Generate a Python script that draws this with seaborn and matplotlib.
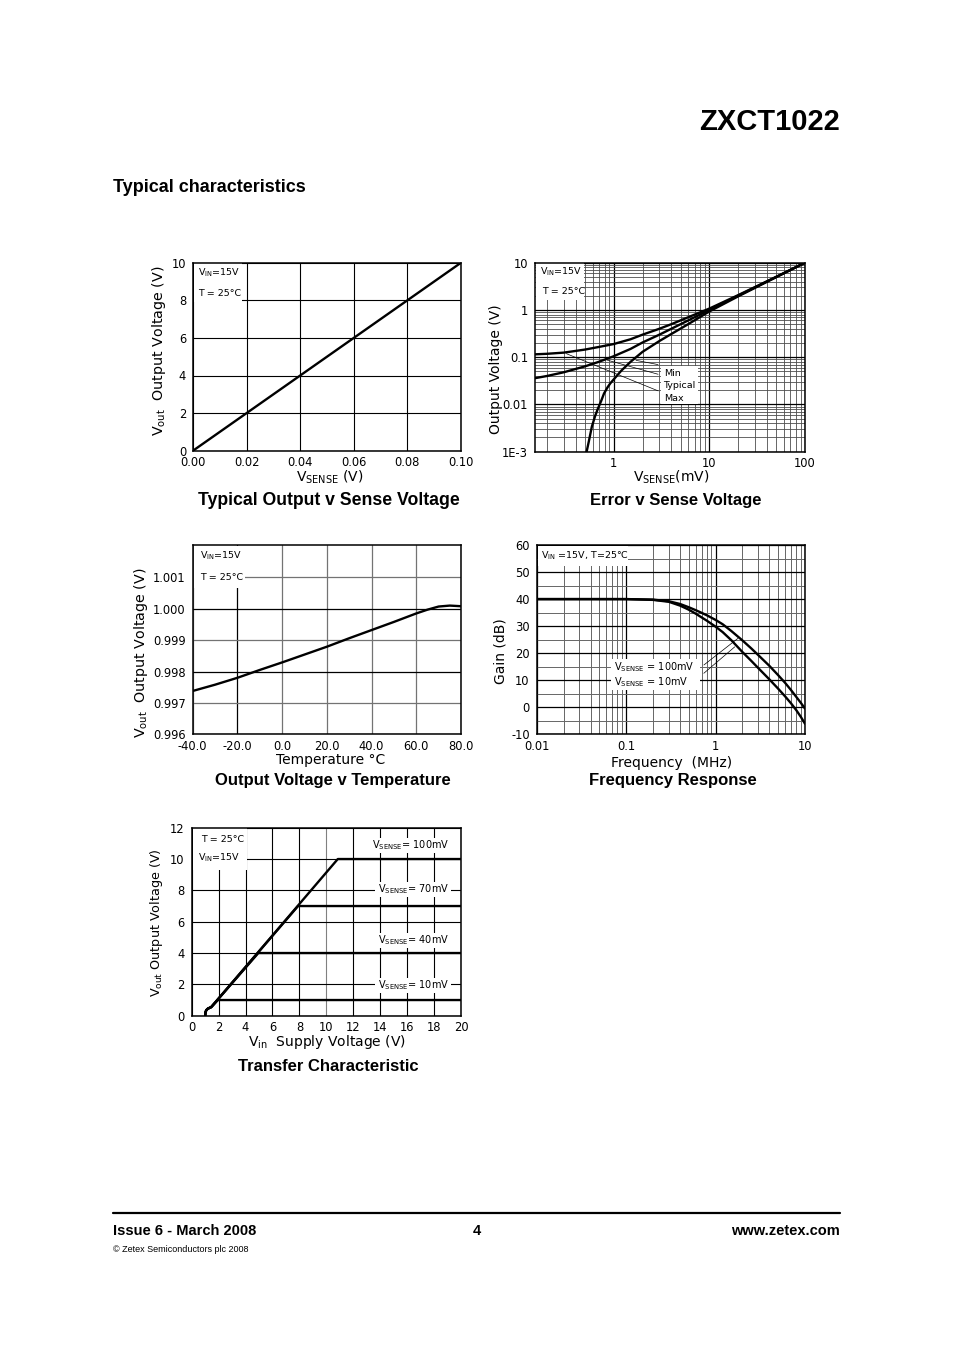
import matplotlib
matplotlib.use("Agg")
import matplotlib.pyplot as plt
from matplotlib.lines import Line2D
from matplotlib.patches import Rectangle
from matplotlib.ticker import FixedLocator, LogLocator, NullFormatter
import numpy as np
import seaborn as sns

sns.set_theme(style="white")
plt.rcParams["font.family"] = ["DejaVu Sans"]
plt.rcParams["mathtext.fontset"] = "dejavusans"
plt.rcParams["text.color"] = "black"
plt.rcParams["axes.labelcolor"] = "black"
plt.rcParams["xtick.color"] = "black"
plt.rcParams["ytick.color"] = "black"
plt.rcParams["axes.unicode_minus"] = False

# --- Typical Output v Sense Voltage ---
sense_v = [0.00, 0.02, 0.04, 0.06, 0.08, 0.10]
sense_vout = [0.0, 2.0, 4.0, 6.0, 8.0, 10.0]
p1_xticks = [0.00, 0.02, 0.04, 0.06, 0.08, 0.10]
p1_xlabels = ["0.00", "0.02", "0.04", "0.06", "0.08", "0.10"]
p1_yticks = [0, 2, 4, 6, 8, 10]

# --- Error v Sense Voltage (x in mV, y in V) ---
err_max_x = [0.15, 0.2, 0.3, 0.5, 0.7, 1, 1.5, 2, 3, 4, 6, 10, 20, 50, 100]
err_max_y = [0.115, 0.118, 0.125, 0.145, 0.165, 0.19, 0.24, 0.3, 0.4, 0.5, 0.7, 1.07, 2.06, 5.02, 10.0]
err_typ_x = [0.15, 0.2, 0.3, 0.5, 0.7, 1, 1.5, 2, 3, 4, 6, 10, 20, 50, 100]
err_typ_y = [0.036, 0.04, 0.048, 0.064, 0.08, 0.105, 0.15, 0.205, 0.3, 0.4, 0.6, 1.0, 2.0, 5.0, 10.0]
err_min_x = [0.5, 0.52, 0.55, 0.59, 0.64, 0.68, 0.74, 0.79, 0.86, 0.92, 1.0, 1.2, 1.5, 2, 3, 4, 6, 10, 20, 50, 100]
err_min_y = [0.0007, 0.001, 0.0017, 0.0034, 0.0058, 0.008, 0.012, 0.017, 0.023, 0.028, 0.034, 0.052, 0.08, 0.13, 0.22,
             0.31, 0.5, 0.93, 1.94, 4.95, 10.0]
p2_xticks = [1, 10, 100]
p2_xlabels = ["1", "10", "100"]
p2_yticks = [1e-3, 1e-2, 1e-1, 1, 10]
p2_ylabels = ["1E-3", "0.01", "0.1", "1", "10"]

# --- Output Voltage v Temperature ---
temp_c = [-40, -30, -20, -10, 0, 10, 20, 30, 40, 50, 60, 65, 70, 75, 80]
temp_vout = [0.99738, 0.99758, 0.99780, 0.99805, 0.99829, 0.99854, 0.99879, 0.99906,
             0.99932, 0.99958, 0.99985, 0.99997, 1.00007, 1.00010, 1.00008]
p3_xticks = [-40, -20, 0, 20, 40, 60, 80]
p3_yticks = [0.996, 0.997, 0.998, 0.999, 1.000, 1.001]

# --- Frequency Response ---
freq_mhz = [0.01, 0.05, 0.1, 0.2, 0.3, 0.4, 0.5, 0.6, 0.7, 0.8, 1, 1.2, 1.5, 2, 2.5, 3, 4, 5, 6, 7, 8, 9, 10]
gain_100mv = [40, 40, 40, 39.8, 39.2, 38.2, 37.0, 35.9, 34.9, 34.0, 32.3, 30.7, 28.2, 24.7, 21.8, 19.3,
              15.3, 11.9, 9.0, 6.3, 3.8, 1.6, -0.5]
gain_10mv = [40, 40, 40, 39.7, 39.0, 37.6, 36.1, 34.6, 33.2, 32.0, 29.8, 27.8, 24.8, 20.4, 17.2, 14.5,
             10.3, 6.9, 4.0, 1.4, -1.1, -3.6, -6.1]
p4_xticks = [0.01, 0.1, 1, 10]
p4_xlabels = ["0.01", "0.1", "1", "10"]
p4_yticks = [-10, 0, 10, 20, 30, 40, 50, 60]

# --- Transfer Characteristic ---
tr_100_x = [1.0, 1.02, 1.08, 1.2, 1.45, 10.85, 20]
tr_100_y = [0.0, 0.2, 0.35, 0.45, 0.55, 10.0, 10.0]
tr_70_x = [1.0, 1.02, 1.08, 1.2, 1.45, 7.9, 20]
tr_70_y = [0.0, 0.2, 0.35, 0.45, 0.55, 7.0, 7.0]
tr_40_x = [1.0, 1.02, 1.08, 1.2, 1.45, 4.95, 20]
tr_40_y = [0.0, 0.2, 0.35, 0.45, 0.55, 4.0, 4.0]
tr_10_x = [1.0, 1.02, 1.08, 1.2, 1.45, 1.95, 20]
tr_10_y = [0.0, 0.2, 0.35, 0.45, 0.55, 1.0, 1.0]
p5_xticks = [0, 2, 4, 6, 8, 10, 12, 14, 16, 18, 20]
p5_yticks = [0, 2, 4, 6, 8, 10, 12]

W, H = 954, 1350
fig = plt.figure(figsize=(W / 100, H / 100), dpi=100)
fig.patch.set_facecolor("white")

HEAD = ["Liberation Sans", "DejaVu Sans"]


def fx(x):
    return x / W


def fy(y):
    return 1 - y / H


def make_axes(l, t, r, b):
    ax = fig.add_axes([fx(l), fy(b), (r - l) / W, (b - t) / H])
    ax.set_facecolor("white")
    for sp in ax.spines.values():
        sp.set_visible(True)
        sp.set_color("black")
        sp.set_linewidth(1.1)
    ax.tick_params(which="both", length=0, labelsize=8.3, colors="black")
    ax.tick_params(axis="x", pad=4)
    ax.tick_params(axis="y", pad=5)
    ax.set_axisbelow(True)
    return ax


def curve(ax, x, y):
    sns.lineplot(x=x, y=y, ax=ax, color="black", linewidth=1.7,
                 estimator=None, sort=False)


def white_box(ax, l, t, r, b):
    ax.add_patch(Rectangle((fx(l), fy(b)), (r - l) / W, (b - t) / H,
                           transform=fig.transFigure, facecolor="white",
                           edgecolor="none", zorder=1.5))


def note(ax, x, y, s, size=6.8, ha="left"):
    ax.text(fx(x), fy(y), s, transform=fig.transFigure, fontsize=size,
            ha=ha, va="center", zorder=1.6, color="black")


def ylab(x, y, s, size=10):
    fig.text(fx(x), fy(y), s, rotation=90, rotation_mode="anchor",
             ha="center", va="baseline", fontsize=size)


def xlab(x, y, s, size=10):
    fig.text(fx(x), fy(y), s, ha="center", va="baseline", fontsize=size)


def title(x, y, s, size=12):
    fig.text(fx(x), fy(y), s, ha="center", va="baseline", fontsize=size,
             fontweight="bold", family=HEAD)


# ---------- panel 1 ----------
ax1 = make_axes(193, 262.7, 461, 450.7)
curve(ax1, sense_v, sense_vout)
ax1.set_xlim(0, 0.1)
ax1.set_ylim(0, 10)
ax1.set_xticks(p1_xticks)
ax1.set_xticklabels(p1_xlabels)
ax1.set_yticks(p1_yticks)
ax1.grid(True, color="black", linewidth=0.8)
white_box(ax1, 194, 263, 242, 302)
note(ax1, 198, 273, r"V$_{\mathrm{IN}}$=15V")
note(ax1, 198, 293, "T = 25°C")
ylab(163, 351, r"V$_{\mathrm{out}}$  Output Voltage (V)", 10.3)
xlab(330, 482, r"V$_{\mathrm{SENSE}}$ (V)")
title(329, 505, "Typical Output v Sense Voltage", 12.7)

# ---------- panel 2 ----------
ax2 = make_axes(535, 262.7, 805, 451.7)
curve(ax2, err_max_x, err_max_y)
curve(ax2, err_typ_x, err_typ_y)
curve(ax2, err_min_x, err_min_y)
ax2.set_xscale("log")
ax2.set_yscale("log")
ax2.set_xlim(0.15, 100)
ax2.set_ylim(1e-3, 10)
ax2.xaxis.set_major_locator(FixedLocator(p2_xticks))
ax2.set_xticklabels(p2_xlabels)
ax2.yaxis.set_major_locator(FixedLocator(p2_yticks))
ax2.set_yticklabels(p2_ylabels)
for axis in (ax2.xaxis, ax2.yaxis):
    axis.set_minor_locator(LogLocator(base=10, subs=np.arange(2, 10), numticks=30))
    axis.set_minor_formatter(NullFormatter())
ax2.grid(True, which="major", color="black", linewidth=0.9)
ax2.grid(True, which="minor", color="0.3", linewidth=0.6)
white_box(ax2, 536, 263, 584, 300)
note(ax2, 540, 272, r"V$_{\mathrm{IN}}$=15V")
note(ax2, 542, 291, "T = 25°C")
for start, end in [((0.3, 0.125), (3.1, 0.0184)),
                   ((0.8, 0.09), (3.1, 0.042)),
                   ((1.6, 0.088), (3.1, 0.068))]:
    ax2.annotate("", xy=end, xytext=start,
                 arrowprops=dict(arrowstyle="-", color="black", lw=0.5))
white_box(ax2, 661, 366, 698, 404)
note(ax2, 664, 373, "Min")
note(ax2, 663, 386, "Typical")
note(ax2, 664, 398, "Max")
ylab(500, 369, "Output Voltage (V)")
xlab(671, 482, r"V$_{\mathrm{SENSE}}$(mV)")
title(676, 505, "Error v Sense Voltage")

# ---------- panel 3 ----------
ax3 = make_axes(192.7, 545, 461, 734.3)
curve(ax3, temp_c, temp_vout)
ax3.set_xlim(-40, 80)
ax3.set_ylim(0.996, 1.00203)
ax3.set_xticks(p3_xticks)
ax3.set_xticklabels([f"{v:.1f}" for v in p3_xticks])
ax3.set_yticks(p3_yticks)
ax3.set_yticklabels([f"{v:.3f}" for v in p3_yticks])
ax3.grid(True, color="0.45", linewidth=0.9)
for v, gl in zip(p3_yticks, ax3.get_ygridlines()):
    if v in (0.998, 1.000):
        gl.set_color("black")
for v, gl in zip(p3_xticks, ax3.get_xgridlines()):
    if v == -20:
        gl.set_color("black")
white_box(ax3, 194, 546, 245, 588)
note(ax3, 200, 556, r"V$_{\mathrm{IN}}$=15V")
note(ax3, 200, 578, "T = 25°C")
ylab(145, 653, r"V$_{\mathrm{out}}$  Output Voltage (V)", 10.3)
xlab(331, 764, "Temperature °C")
title(333, 785, "Output Voltage v Temperature")

# ---------- panel 4 ----------
ax4 = make_axes(536.7, 545, 805, 734.3)
curve(ax4, freq_mhz, gain_100mv)
curve(ax4, freq_mhz, gain_10mv)
ax4.set_xscale("log")
ax4.set_xlim(0.01, 10)
ax4.set_ylim(-10, 60)
ax4.xaxis.set_major_locator(FixedLocator(p4_xticks))
ax4.set_xticklabels(p4_xlabels)
ax4.xaxis.set_minor_locator(LogLocator(base=10, subs=np.arange(2, 10), numticks=30))
ax4.xaxis.set_minor_formatter(NullFormatter())
ax4.set_yticks(p4_yticks)
ax4.yaxis.set_minor_locator(FixedLocator([-5, 5, 15, 25, 35, 45, 55]))
ax4.grid(True, which="major", color="black", linewidth=0.9)
ax4.grid(True, which="minor", color="0.4", linewidth=0.7)
white_box(ax4, 538, 546, 628, 566)
note(ax4, 541, 556, r"V$_{\mathrm{IN}}$ =15V, T=25°C")
for start, end in [((0.70, 15.0), (1.88, 26.1)), ((0.70, 11.9), (1.73, 23.0))]:
    ax4.annotate("", xy=end, xytext=start,
                 arrowprops=dict(arrowstyle="-", color="black", lw=0.5))
white_box(ax4, 611, 659, 700, 690)
note(ax4, 614, 667, r"V$_{\mathrm{SENSE}}$ = 100mV", 7)
note(ax4, 614, 682, r"V$_{\mathrm{SENSE}}$ = 10mV", 7)
ylab(505, 651, "Gain (dB)")
xlab(672, 767, "Frequency  (MHz)")
title(673, 785, "Frequency Response")

# ---------- panel 5 ----------
ax5 = make_axes(191.7, 827.7, 461, 1015.7)
curve(ax5, tr_100_x, tr_100_y)
curve(ax5, tr_70_x, tr_70_y)
curve(ax5, tr_40_x, tr_40_y)
curve(ax5, tr_10_x, tr_10_y)
ax5.set_xlim(0, 20)
ax5.set_ylim(0, 12)
ax5.set_xticks(p5_xticks)
ax5.set_yticks(p5_yticks)
ax5.grid(True, color="black", linewidth=0.8)
for v, gl in zip(p5_xticks, ax5.get_xgridlines()):
    if v == 10:
        gl.set_color("0.5")
white_box(ax5, 193, 828, 247, 870)
note(ax5, 201, 840, "T = 25°C")
note(ax5, 198, 858, r"V$_{\mathrm{IN}}$=15V")
for top, bot, s in [(838, 853, "100mV"), (882, 897, "70mV"),
                    (933, 948, "40mV"), (978, 993, "10mV")]:
    white_box(ax5, 375, top, 451, bot)
    note(ax5, 449, (top + bot) / 2, r"V$_{\mathrm{SENSE}}$= " + s, 7, ha="right")
ylab(160, 923, r"V$_{\mathrm{out}}$ Output Voltage (V)", 9.2)
xlab(327, 1046, r"V$_{\mathrm{in}}$  Supply Voltage (V)")
title(328, 1071, "Transfer Characteristic")

# ---------- page header / footer ----------
fig.text(fx(840), fy(122), "ZXCT1022", ha="right", va="center", fontsize=21,
         fontweight="bold", family=HEAD)
fig.text(fx(113), fy(188), "Typical characteristics", ha="left", va="center",
         fontsize=13, fontweight="bold", family=HEAD)
fig.add_artist(Line2D([fx(113), fx(840)], [fy(1213), fy(1213)],
                      color="black", linewidth=1.6))
fig.text(fx(113), fy(1231), "Issue 6 - March 2008", ha="left", va="center",
         fontsize=10.5, fontweight="bold", family=HEAD)
fig.text(fx(477), fy(1231), "4", ha="center", va="center",
         fontsize=10.5, fontweight="bold", family=HEAD)
fig.text(fx(840), fy(1231), "www.zetex.com", ha="right", va="center",
         fontsize=10.5, fontweight="bold", family=HEAD)
fig.text(fx(113), fy(1249), "© Zetex Semiconductors plc 2008", ha="left",
         va="center", fontsize=6.5, family=HEAD)

fig.savefig("out.png", dpi=100, facecolor="white")
plt.close(fig)
